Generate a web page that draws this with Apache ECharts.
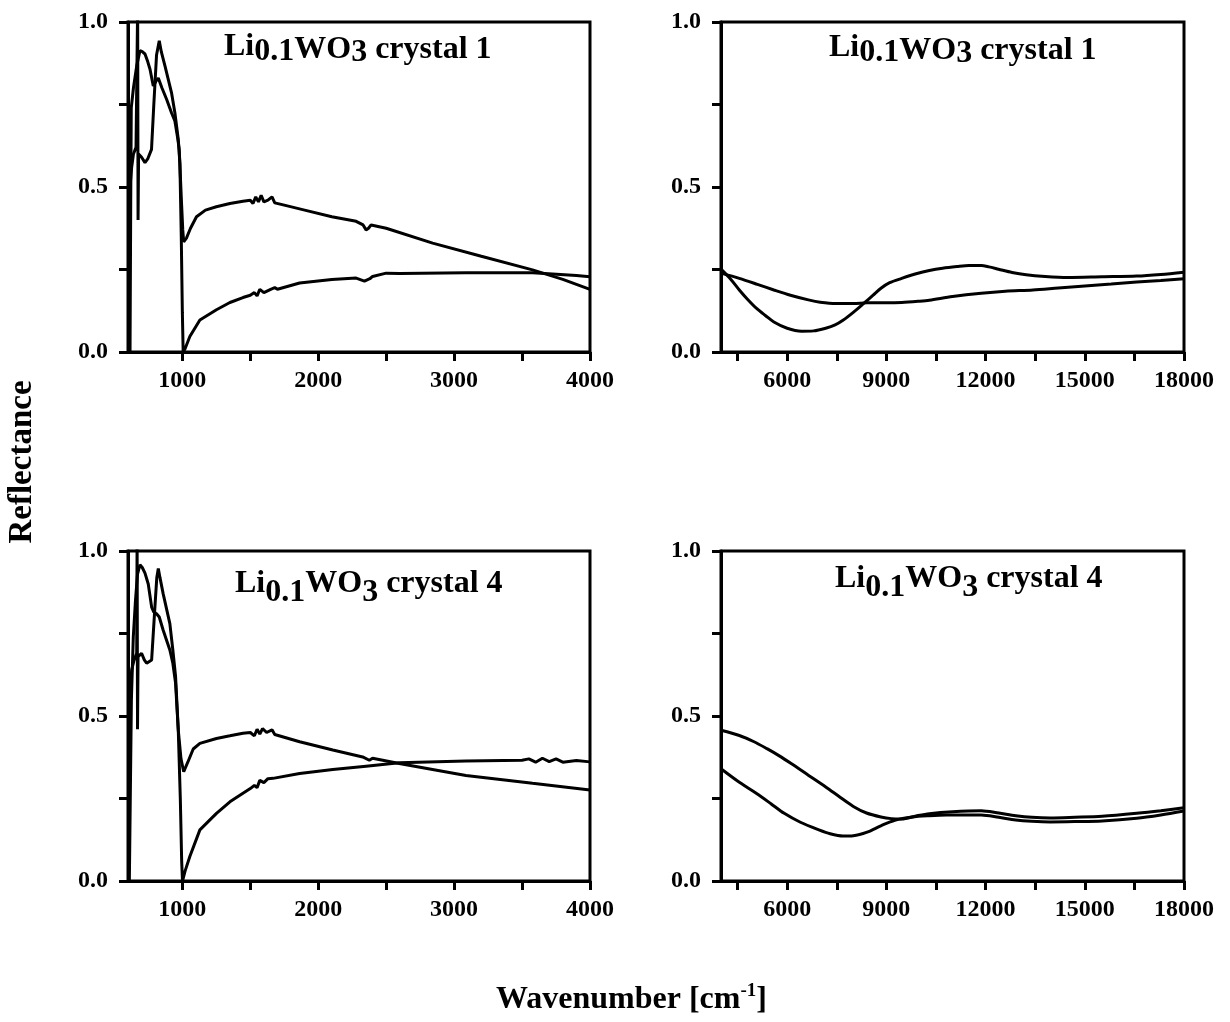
<!DOCTYPE html>
<html>
<head>
<meta charset="utf-8">
<script src="https://cdn.jsdelivr.net/npm/echarts@6/dist/echarts.min.js"></script>
<style>
html, body { margin: 0; padding: 0; background: #fff; }
#chart { width: 1230px; height: 1022px; }
</style>
</head>
<body>
<div id="chart"></div>
<script>
'use strict';

// far IR, crystal 1 - [wavenumber, reflectance]
var farC1A = [[615,0.0],[620,0.45],[624,0.74],[640,0.80],[664,0.867],[688,0.913],[705,0.91],[725,0.903],[745,0.88],[762,0.857],[786,0.806],[805,0.82],[823,0.83],[850,0.80],[884,0.766],[920,0.725],[945,0.70],[965,0.65],[977,0.614],[993,0.46],[1003,0.37],[1010,0.334],[1030,0.345],[1060,0.375],[1104,0.41],[1170,0.43],[1250,0.44],[1350,0.45],[1446,0.457],[1500,0.46],[1520,0.45],[1540,0.47],[1560,0.455],[1580,0.475],[1600,0.455],[1630,0.46],[1660,0.47],[1680,0.452],[1750,0.445],[1900,0.43],[2100,0.41],[2279,0.396],[2330,0.385],[2352,0.37],[2370,0.375],[2389,0.385],[2500,0.375],[2842,0.33],[3200,0.29],[3577,0.249],[3800,0.22],[4000,0.19]];
var farC1B = [[605,0.30],[615,0.50],[627,0.56],[640,0.60],[659,0.62],[668,0.62],[671,1.05],[674,0.40],[678,0.60],[700,0.59],[725,0.574],[745,0.585],[773,0.614],[790,0.75],[810,0.90],[830,0.943],[845,0.91],[872,0.867],[920,0.786],[945,0.725],[970,0.644],[982,0.57],[992,0.35],[1000,0.12],[1006,0.0],[1020,0.01],[1055,0.047],[1129,0.097],[1251,0.128],[1350,0.15],[1446,0.165],[1500,0.172],[1530,0.18],[1550,0.17],[1570,0.19],[1600,0.18],[1650,0.19],[1680,0.195],[1700,0.19],[1863,0.209],[2100,0.22],[2279,0.224],[2340,0.215],[2352,0.211],[2380,0.222],[2400,0.229],[2500,0.239],[2600,0.238],[3087,0.24],[3577,0.24],[3900,0.232],[4000,0.228]];

// far IR, crystal 4
var farC4A = [[610,0.0],[625,0.55],[639,0.74],[655,0.85],[670,0.93],[688,0.958],[705,0.95],[725,0.933],[749,0.90],[774,0.83],[790,0.815],[810,0.81],[830,0.80],[859,0.76],[908,0.70],[930,0.66],[950,0.60],[970,0.457],[990,0.37],[1010,0.331],[1040,0.36],[1080,0.40],[1129,0.417],[1251,0.432],[1350,0.44],[1446,0.448],[1500,0.45],[1530,0.44],[1550,0.46],[1570,0.445],[1590,0.462],[1620,0.45],[1660,0.458],[1680,0.444],[1863,0.422],[2107,0.397],[2327,0.376],[2376,0.366],[2400,0.372],[2596,0.356],[3087,0.32],[3577,0.296],[4000,0.276]];
var farC4B = [[605,0.40],[615,0.55],[627,0.64],[645,0.67],[664,0.69],[667,1.05],[670,0.46],[674,0.68],[700,0.69],[720,0.67],[737,0.66],[749,0.654],[774,0.67],[798,0.83],[812,0.92],[823,0.947],[835,0.92],[859,0.87],[908,0.78],[930,0.70],[950,0.62],[970,0.457],[985,0.25],[995,0.06],[1001,0.0],[1020,0.03],[1055,0.074],[1129,0.155],[1251,0.205],[1350,0.24],[1446,0.266],[1500,0.28],[1530,0.29],[1550,0.283],[1570,0.305],[1600,0.298],[1630,0.31],[1667,0.311],[1863,0.326],[2107,0.338],[2352,0.348],[2596,0.358],[3087,0.364],[3500,0.366],[3550,0.37],[3600,0.36],[3650,0.372],[3700,0.362],[3750,0.37],[3800,0.36],[3900,0.365],[4000,0.361]];

// near IR / visible, crystal 1
var nirC1A = [[4000,0.251],[4300,0.22],[4554,0.188],[4800,0.16],[5076,0.132],[5350,0.11],[5599,0.091],[6000,0.072],[6434,0.063],[6800,0.064],[7166,0.072],[7450,0.082],[7688,0.096],[8000,0.12],[8315,0.147],[8600,0.172],[8837,0.193],[9100,0.21],[9464,0.223],[9900,0.237],[10300,0.247],[10700,0.254],[11136,0.259],[11500,0.262],[11867,0.262],[12100,0.258],[12390,0.251],[12800,0.241],[13226,0.234],[13800,0.229],[14479,0.226],[15524,0.228],[16569,0.23],[17300,0.235],[18000,0.242]];
var nirC1B = [[4000,0.239],[4554,0.223],[5100,0.205],[5599,0.188],[6100,0.172],[6643,0.158],[7000,0.151],[7479,0.147],[8000,0.147],[8419,0.149],[9000,0.149],[9464,0.15],[10000,0.154],[10300,0.157],[11000,0.168],[11867,0.178],[12600,0.184],[13434,0.188],[14200,0.194],[15000,0.2],[15800,0.206],[16569,0.212],[17300,0.217],[18000,0.222]];

// near IR / visible, crystal 4
var nirC4A = [[4000,0.457],[4554,0.441],[5000,0.422],[5390,0.401],[5750,0.38],[6121,0.356],[6650,0.32],[7166,0.285],[7600,0.254],[8002,0.226],[8400,0.206],[8837,0.194],[9150,0.189],[9464,0.188],[9900,0.197],[10300,0.204],[11000,0.21],[11867,0.213],[12400,0.206],[12912,0.198],[13400,0.193],[13957,0.191],[14700,0.193],[15524,0.196],[16569,0.205],[17300,0.213],[18000,0.222]];
var nirC4B = [[4000,0.34],[4500,0.303],[5076,0.265],[5500,0.235],[5912,0.205],[6400,0.178],[6957,0.155],[7300,0.143],[7688,0.136],[8000,0.137],[8419,0.148],[8850,0.168],[9255,0.184],[9777,0.194],[10300,0.198],[10822,0.2],[11867,0.2],[12400,0.193],[12912,0.185],[13400,0.181],[13957,0.179],[14700,0.18],[15524,0.182],[16569,0.19],[17300,0.2],[18000,0.212]];

// ticks
var farTicks = [1000, 1500, 2000, 2500, 3000, 3500, 4000];
var farLabels = [1000, 2000, 3000, 4000];
var nirTicks = [4500, 6000, 7500, 9000, 10500, 12000, 13500, 15000, 16500, 18000];
var nirLabels = [6000, 9000, 12000, 15000, 18000];

var FONT = '"Liberation Serif", "Times New Roman", serif';
var chart = echarts.init(document.getElementById('chart'));

var grids = [
    {left: 128, top: 22, width: 462, height: 330},
    {left: 721, top: 22, width: 463, height: 330},
    {left: 128, top: 551, width: 462, height: 330},
    {left: 721, top: 551, width: 463, height: 330}
];
grids.forEach(function (g) {
    g.show = true;
    g.borderColor = '#000';
    g.borderWidth = 3;
    g.backgroundColor = 'transparent';
});

function makeX(i, far) {
    return {
        type: 'value',
        gridIndex: i,
        min: far ? 600 : 4000,
        max: far ? 4000 : 18000,
        axisLine: {show: true, onZero: false, lineStyle: {color: '#000', width: 3}},
        axisTick: {show: true, customValues: far ? farTicks : nirTicks, length: 9, lineStyle: {color: '#000', width: 3}},
        axisLabel: {
            customValues: far ? farLabels : nirLabels, margin: 17, color: '#000',
            fontFamily: FONT, fontWeight: 'bold', fontSize: 24,
            formatter: function (v) { return String(v); }
        },
        splitLine: {show: false}
    };
}

function makeY(i) {
    return {
        type: 'value',
        gridIndex: i,
        min: 0,
        max: 1,
        interval: 0.25,
        axisLine: {show: true, onZero: false, lineStyle: {color: '#000', width: 3}},
        axisTick: {show: true, length: 9, lineStyle: {color: '#000', width: 3}},
        axisLabel: {
            margin: 20, color: '#000', fontFamily: FONT, fontWeight: 'bold', fontSize: 24,
            formatter: function (v) {
                return Math.round(v * 100) % 50 === 0 ? v.toFixed(1) : '';
            }
        },
        splitLine: {show: false}
    };
}

function makeSeries(i, data, smooth) {
    return {
        type: 'line',
        xAxisIndex: i,
        yAxisIndex: i,
        data: data,
        showSymbol: false,
        symbol: 'none',
        smooth: smooth ? 0.3 : false,
        clip: true,
        lineStyle: {color: '#000', width: 3},
        animation: false
    };
}

var titleRich = {
    n: {fontFamily: FONT, fontWeight: 'bold', fontSize: 32, color: '#000'},
    s2: {fontFamily: FONT, fontWeight: 'bold', fontSize: 32, color: '#000', padding: [5, 0, 0, 0]},
    s5: {fontFamily: FONT, fontWeight: 'bold', fontSize: 32, color: '#000', padding: [10, 0, 0, 0]},
    s6: {fontFamily: FONT, fontWeight: 'bold', fontSize: 32, color: '#000', padding: [12, 0, 0, 0]},
    s9: {fontFamily: FONT, fontWeight: 'bold', fontSize: 32, color: '#000', padding: [18, 0, 0, 0]}
};

function makeTitle(text, left, top) {
    return {
        text: text,
        left: left,
        top: top,
        padding: 0,
        textStyle: {rich: titleRich}
    };
}

var option = {
    backgroundColor: '#fff',
    animation: false,
    title: [
        makeTitle('{n|Li}{s5|0.1}{s2|WO}{s6|3}{s2| crystal 1}', 224, 25),
        makeTitle('{n|Li}{s5|0.1}{s2|WO}{s6|3}{s2| crystal 1}', 829, 26),
        makeTitle('{n|Li}{s9|0.1}{n|WO}{s9|3}{n| crystal 4}', 235, 559),
        makeTitle('{n|Li}{s9|0.1}{n|WO}{s9|3}{n| crystal 4}', 835, 554)
    ],
    grid: grids,
    xAxis: [makeX(0, true), makeX(1, false), makeX(2, true), makeX(3, false)],
    yAxis: [makeY(0), makeY(1), makeY(2), makeY(3)],
    series: [
        makeSeries(0, farC1A, false),
        makeSeries(0, farC1B, false),
        makeSeries(1, nirC1A, true),
        makeSeries(1, nirC1B, true),
        makeSeries(2, farC4A, false),
        makeSeries(2, farC4B, false),
        makeSeries(3, nirC4A, true),
        makeSeries(3, nirC4B, true)
    ],
    graphic: [
        {
            type: 'text',
            x: 22,
            y: 462,
            rotation: Math.PI / 2,
            style: {
                text: 'Reflectance',
                fill: '#000',
                font: 'bold 33px ' + FONT,
                align: 'center',
                verticalAlign: 'middle'
            }
        },
        {
            type: 'text',
            x: 496,
            y: 1000,
            style: {
                text: '{n|Wavenumber [cm}{sup|-1}{n|]}',
                rich: {
                    n: {fontFamily: FONT, fontWeight: 'bold', fontSize: 32, fill: '#000'},
                    sup: {fontFamily: FONT, fontWeight: 'bold', fontSize: 19, fill: '#000', padding: [0, 0, 18, 0]}
                },
                align: 'left',
                verticalAlign: 'middle'
            }
        }
    ]
};

chart.setOption(option);
</script>
</body>
</html>
